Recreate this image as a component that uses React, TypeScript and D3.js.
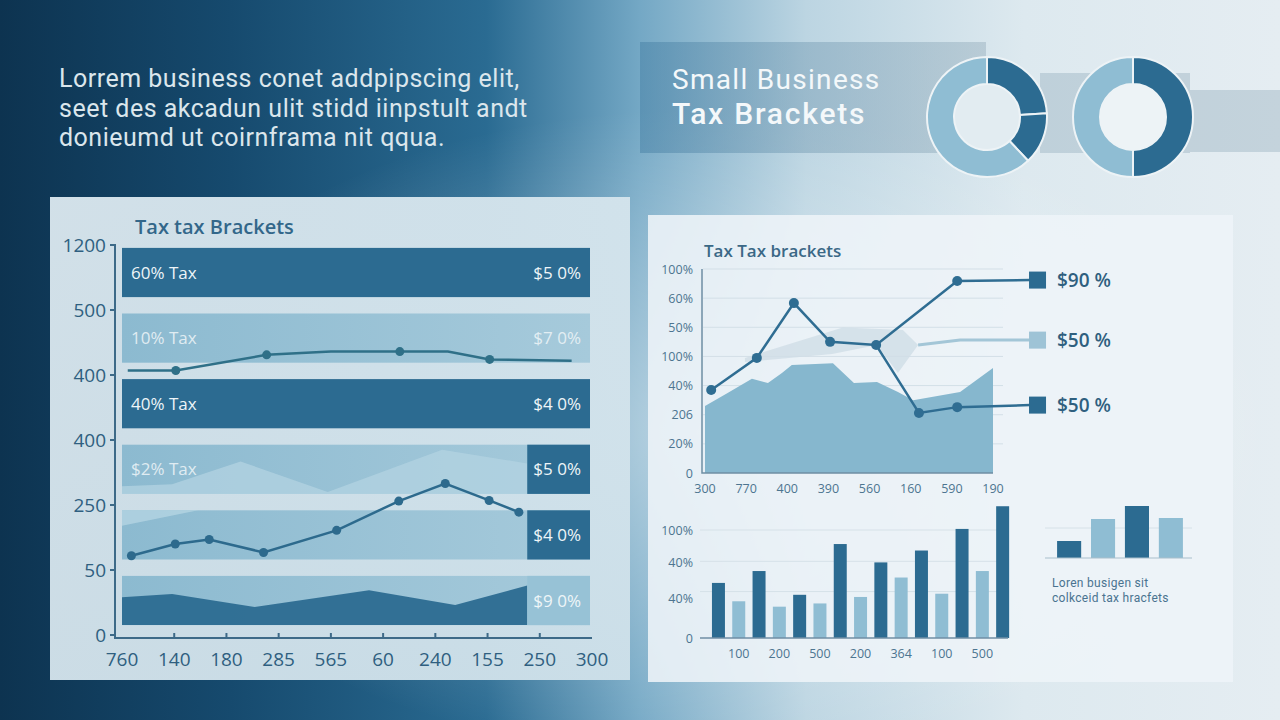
import * as d3 from "d3";

// ---------- header ----------
const introLines = [
  "Lorrem business conet addpipscing elit,",
  "seet des akcadun ulit stidd iinpstult andt",
  "donieumd ut coirnframa nit qqua.",
];
const titleLines = ["Small Business", "Tax Brackets"];
const donutShares = [24, 14, 62];
const donutHalves = [50, 50];

// ---------- left panel ----------
const leftTitle = "Tax tax Brackets";
const leftYLabels = ["0", "50", "250", "400", "400", "500", "1200"];
const leftXLabels = ["760", "140", "180", "285", "565", "60", "240", "155", "250", "300"];
const rowLeftText = ["60% Tax", "10% Tax", "40% Tax", "$2% Tax", "", ""];
const rowRightText = ["$5 0%", "$7 0%", "$4 0%", "$5 0%", "$4 0%", "$9 0%"];
const flatLineX = [0.11, 1.03, 2.77, 4.0, 5.32, 6.24, 7.04, 8.61];
const flatLineY = [4.07, 4.07, 4.31, 4.36, 4.36, 4.36, 4.24, 4.22];
const flatLineDots = [1, 2, 4, 6];
const riseLineX = [0.18, 1.02, 1.67, 2.71, 4.11, 5.3, 6.19, 7.03, 7.6];
const riseLineY = [1.22, 1.4, 1.47, 1.27, 1.61, 2.06, 2.33, 2.07, 1.89];
const ridgeX = [0, 0.96, 2.27, 3.94, 6.13, 7.76];
const ridgeY = [2.29, 2.32, 2.67, 2.2, 2.85, 2.64];
const wedgeX = [0, 1.46];
const wedgeY = [1.68, 1.92];
const floorX = [0, 0.96, 2.54, 4.73, 6.38, 7.76];
const floorY = [0.58, 0.63, 0.43, 0.69, 0.46, 0.76];

// ---------- right top chart ----------
const rightTitle = "Tax Tax brackets";
const rightYLabels = ["0", "20%", "206", "40%", "100%", "50%", "60%", "100%"];
const rightXLabels = ["300", "770", "400", "390", "560", "160", "590", "190"];
const hillX = [0, 0.56, 1.14, 1.53, 1.87, 2.11, 3.11, 3.62, 4.18, 4.69, 5.06, 6.2, 7.0];
const hillY = [2.3, 2.75, 3.23, 3.09, 3.43, 3.71, 3.77, 3.09, 3.12, 2.78, 2.5, 2.78, 3.6];
const ghostX = [0.97, 3.35, 4.81, 5.18, 4.69, 4.18, 3.09, 0.97];
const ghostY = [3.95, 4.99, 4.91, 4.39, 3.43, 4.39, 4.08, 3.81];
const topLineX = [0.15, 1.26, 2.16, 3.04, 4.16, 6.13, 7.9];
const topLineY = [2.85, 3.95, 5.83, 4.5, 4.39, 6.59, 6.62];
const paleLineX = [5.18, 6.2, 7.9];
const paleLineY = [4.39, 4.56, 4.56];
const lowLineX = [4.16, 5.2, 6.13, 7.9];
const lowLineY = [4.39, 2.06, 2.26, 2.33];
const legendLabels = ["$90 %", "$50 %", "$50 %"];

// ---------- right bottom bars ----------
const barValues = [51, 34, 62, 29, 40, 32, 87, 38, 70, 56, 81, 41, 101, 62, 122];
const barLabels = ["100", "200", "500", "200", "364", "100", "500"];
const barYLabels = ["0", "40%", "40%", "100%"];
const barYLabelAt = [0, 37, 70, 100];
const barGrid = [43, 71, 100];
const miniValues = [17, 39, 52, 40];
const miniCaption = ["Loren  busigen sit", "colkceid tax hracfets"];

const DARK = "#2c6b91";
const LIGHT = "#8fbdd3";
const FONT = "'Open Sans', 'DejaVu Sans', sans-serif";
const TIGHT = "Roboto, 'Open Sans', sans-serif";

const zip = (xs: number[], ys: number[]) => xs.map((x, i) => [x, ys[i]] as [number, number]);

export default function App() {
  // left chart scales
  const lx = d3.scaleLinear().domain([0, 9]).range([122, 592]);
  const ly = d3.scaleLinear().domain([0, 6]).range([635, 245]);
  const rows = d3
    .scaleBand<number>()
    .domain(d3.range(6))
    .range([239.7, 633.3])
    .paddingInner(0.25)
    .paddingOuter(0.125);
  const bandL = 122;
  const bandR = 590;
  const split = lx(7.76);
  const lLine = d3.line<[number, number]>().x((d) => lx(d[0])).y((d) => ly(d[1]));

  // right chart scales
  const rx = d3.scaleLinear().domain([0, 7]).range([705, 993]);
  const ry = d3.scaleLinear().domain([0, 7]).range([473, 269]);
  const rLine = d3.line<[number, number]>().x((d) => rx(d[0])).y((d) => ry(d[1]));
  const rArea = d3
    .area<[number, number]>()
    .x((d) => rx(d[0]))
    .y0(ry(0))
    .y1((d) => ry(d[1]));

  // bars
  const bx = d3
    .scaleBand<number>()
    .domain(d3.range(barValues.length))
    .range([708.3, 1012.8])
    .paddingInner(0.36)
    .paddingOuter(0.18);
  const by = d3.scaleLinear().domain([0, 100]).range([638, 530]);
  const sx = d3
    .scaleBand<number>()
    .domain(d3.range(miniValues.length))
    .range([1052, 1188])
    .paddingInner(0.29)
    .paddingOuter(0.15);
  const sy = d3.scaleLinear().domain([0, 60]).range([558, 498]);

  const pie = d3.pie<number>().sort(null);
  const arc = d3.arc<d3.PieArcDatum<number>>().innerRadius(33).outerRadius(60);

  const r0 = (i: number) => rows(i) as number;
  const bw = rows.bandwidth();

  const areaIn = (xs: number[], ys: number[], base: number) =>
    d3
      .area<[number, number]>()
      .x((d) => lx(d[0]))
      .y0(base)
      .y1((d) => ly(d[1]))(zip(xs, ys)) as string;

  return (
    <svg
      width={1280}
      height={720}
      style={{ position: "absolute", left: 0, top: 0, display: "block" }}
      fontFamily={FONT}
    >
      <defs>
        <linearGradient id="bg" x1="0" x2="1" y1="0" y2="0">
          <stop offset="0" stopColor="#0d3350" />
          <stop offset="0.18" stopColor="#164a6e" />
          <stop offset="0.38" stopColor="#2a6b92" />
          <stop offset="0.5" stopColor="#74a8c5" />
          <stop offset="0.63" stopColor="#bcd5e2" />
          <stop offset="0.8" stopColor="#dde9ef" />
          <stop offset="1" stopColor="#e5edf2" />
        </linearGradient>
        <radialGradient id="glow" cx="0.55" cy="0.6" r="0.45">
          <stop offset="0" stopColor="#ffffff" stopOpacity="0.45" />
          <stop offset="1" stopColor="#ffffff" stopOpacity="0" />
        </radialGradient>
        <linearGradient id="band" x1="0" x2="1">
          <stop offset="0" stopColor="#3f7aa0" stopOpacity="0.45" />
          <stop offset="0.5" stopColor="#6a92ab" stopOpacity="0.4" />
          <stop offset="1" stopColor="#8fa8b7" stopOpacity="0.42" />
        </linearGradient>
        <linearGradient id="panelL" x1="0" x2="1" y1="0" y2="1">
          <stop offset="0" stopColor="#dce9f0" />
          <stop offset="1" stopColor="#cfe1ea" />
        </linearGradient>
        <linearGradient id="lightRow" x1="0" x2="1">
          <stop offset="0" stopColor="#8cbad0" />
          <stop offset="1" stopColor="#a6cadb" />
        </linearGradient>
      </defs>

      {/* background */}
      <rect width={1280} height={720} fill="url(#bg)" />
      <rect width={1280} height={720} fill="url(#glow)" />

      {/* intro paragraph */}
      <text fill="#dbe6ec" fontSize={25} fontFamily={TIGHT} letterSpacing={0.5}>
        {introLines.map((t, i) => (
          <tspan key={i} x={59} y={87 + i * 29.5}>
            {t}
          </tspan>
        ))}
      </text>

      {/* title bands */}
      <rect x={640} y={42} width={346} height={111} fill="url(#band)" />
      <rect x={1040} y={73} width={150} height={80} fill="#8fa8b7" opacity={0.38} />
      <rect x={1190} y={90} width={90} height={62} fill="#8fa8b7" opacity={0.38} />
      <text fill="#f4f8fa" fontFamily={TIGHT}>
        <tspan x={672} y={89} fontSize={28} fontWeight={400} letterSpacing={1.3}>
          {titleLines[0]}
        </tspan>
        <tspan x={672} y={124} fontSize={30} fontWeight={500} letterSpacing={1.8}>
          {titleLines[1]}
        </tspan>
      </text>

      {/* donuts */}
      <g transform="translate(987,117)">
        <circle r={33} fill="#e2ecf1" />
        {pie(donutShares).map((s, i) => (
          <path key={i} d={arc(s) as string} fill={i < 2 ? DARK : LIGHT} stroke="#edf3f6" strokeWidth={2} />
        ))}
      </g>
      <g transform="translate(1133,117)">
        <circle r={33} fill="#edf3f6" />
        {pie(donutHalves).map((s, i) => (
          <path key={i} d={arc(s) as string} fill={i === 0 ? DARK : LIGHT} stroke="#edf3f6" strokeWidth={2} />
        ))}
      </g>

      {/* left panel */}
      <rect x={50} y={197} width={580} height={483} fill="url(#panelL)" opacity={0.95} />
      <text x={135} y={234} fill="#33678a" fontSize={20} fontWeight={600}>
        {leftTitle}
      </text>

      {/* rows */}
      {d3.range(6).map((i) => {
        const y = r0(i);
        const dark = i === 0 || i === 2;
        return (
          <rect key={i} x={bandL} y={y} width={bandR - bandL} height={bw} fill={dark ? DARK : "url(#lightRow)"} />
        );
      })}
      {/* row 4 ridge */}
      <path d={areaIn(ridgeX, ridgeY, r0(3) + bw)} fill="#b3d3e1" opacity={0.75} />
      {/* row 5 wedge */}
      <path d={areaIn(wedgeX, wedgeY, r0(4))} fill="#b4d4e2" opacity={0.8} />
      {/* row 6 floor */}
      <path d={areaIn(floorX, floorY, r0(5) + bw)} fill={DARK} opacity={0.95} />
      {/* right boxes */}
      <rect x={split} y={r0(3)} width={bandR - split} height={bw} fill={DARK} />
      <rect x={split} y={r0(4)} width={bandR - split} height={bw} fill={DARK} />
      <rect x={split} y={r0(5)} width={bandR - split} height={bw} fill="#97c2d6" />

      <g fontSize={17} fill="#eef5f8">
        {rowLeftText.map((t, i) =>
          t ? (
            <text key={i} x={131} y={r0(i) + bw / 2 + 6} opacity={i === 1 || i === 3 ? 0.85 : 1}>
              {t}
            </text>
          ) : null
        )}
        {rowRightText.map((t, i) => (
          <text key={i} x={581} y={r0(i) + bw / 2 + 6} textAnchor="end" opacity={i === 1 ? 0.85 : 1}>
            {t}
          </text>
        ))}
      </g>

      {/* lines on left chart */}
      <path d={lLine(zip(flatLineX, flatLineY)) as string} fill="none" stroke="#2f7088" strokeWidth={2.5} />
      {flatLineDots.map((k) => (
        <circle key={k} cx={lx(flatLineX[k])} cy={ly(flatLineY[k])} r={4.5} fill="#2f7088" />
      ))}
      <path d={lLine(zip(riseLineX, riseLineY)) as string} fill="none" stroke="#2d6a8d" strokeWidth={2.5} />
      {riseLineX.map((x, k) => (
        <circle key={k} cx={lx(x)} cy={ly(riseLineY[k])} r={4.5} fill="#2d6a8d" />
      ))}

      {/* left axes */}
      <g stroke="#3d6a88" strokeWidth={2} fill="none">
        <path d={`M110,${ly(6)}H115V${ly(0) + 3}H${lx(9)}`} />
        {d3.range(0, 6).map((i) => (
          <line key={i} x1={110} x2={115} y1={ly(i)} y2={ly(i)} />
        ))}
        {d3.range(1, 9).map((i) => (
          <line key={i} x1={lx(i)} x2={lx(i)} y1={ly(0) + 3} y2={ly(0) - 2} />
        ))}
      </g>
      <g fill="#2f5f80" fontSize={19}>
        {leftYLabels.map((t, i) => (
          <text key={i} x={106} y={ly(i) + 7} textAnchor="end">
            {t}
          </text>
        ))}
        {leftXLabels.map((t, i) => (
          <text key={i} x={lx(i)} y={666} textAnchor="middle">
            {t}
          </text>
        ))}
      </g>

      {/* right panel */}
      <rect x={648} y={215} width={585} height={467} fill="#eef4f8" opacity={0.88} />
      <text x={704} y={257} fill="#3b6886" fontSize={17} fontWeight={600}>
        {rightTitle}
      </text>
      <g stroke="#d3dfe7" strokeWidth={1}>
        {d3.range(1, 8).map((i) => (
          <line key={i} x1={703} x2={1003} y1={ry(i)} y2={ry(i)} />
        ))}
      </g>
      <path d={rArea(zip(hillX, hillY)) as string} fill="#86b7ce" />
      <path d={`M${zip(ghostX, ghostY).map((d) => `${rx(d[0])},${ry(d[1])}`).join("L")}Z`} fill="#d0dde6" opacity={0.8} />
      <path d={rLine(zip(paleLineX, paleLineY)) as string} fill="none" stroke="#a3c6d7" strokeWidth={3} />
      <path d={rLine(zip(topLineX, topLineY)) as string} fill="none" stroke="#2f6d92" strokeWidth={2.5} />
      <path d={rLine(zip(lowLineX, lowLineY)) as string} fill="none" stroke="#2f6d92" strokeWidth={2.5} />
      {topLineX.slice(0, 6).map((x, k) => (
        <circle key={k} cx={rx(x)} cy={ry(topLineY[k])} r={5} fill="#2f6d92" />
      ))}
      {[1, 2].map((k) => (
        <circle key={k} cx={rx(lowLineX[k])} cy={ry(lowLineY[k])} r={5} fill="#2f6d92" />
      ))}
      <g stroke="#6f8ea4" strokeWidth={1.5} fill="none">
        <path d={`M${rx(0) - 3},${ry(7)}V${ry(0)}H${rx(7)}`} />
      </g>
      <g fill="#4d7590" fontSize={12.5}>
        {rightYLabels.map((t, i) => (
          <text key={i} x={693} y={ry(i) + 4.5} textAnchor="end">
            {t}
          </text>
        ))}
        {rightXLabels.map((t, i) => (
          <text key={i} x={rx(i)} y={493} textAnchor="middle">
            {t}
          </text>
        ))}
      </g>
      {/* legend */}
      {[topLineY, paleLineY, lowLineY].map((ys, i) => {
        const cy = ry(ys[ys.length - 1]);
        return (
          <g key={i}>
            <rect x={rx(7.9) - 1} y={cy - 8.5} width={17} height={17} fill={i === 1 ? "#9ec3d6" : DARK} />
            <text x={1057} y={cy + 7} fill="#2f5f7f" fontSize={19} fontWeight={600}>
              {legendLabels[i]}
            </text>
          </g>
        );
      })}

      {/* bar chart */}
      <g stroke="#d6e1e8" strokeWidth={1}>
        {barGrid.map((v) => (
          <line key={v} x1={700} x2={1008} y1={by(v)} y2={by(v)} />
        ))}
      </g>
      {barValues.map((v, i) => (
        <rect
          key={i}
          x={bx(i)}
          y={by(v)}
          width={bx.bandwidth()}
          height={by(0) - by(v)}
          fill={i % 2 === 0 ? DARK : LIGHT}
        />
      ))}
      <line x1={700} x2={1008} y1={by(0)} y2={by(0)} stroke="#6f8ea4" strokeWidth={1.5} />
      <g fill="#4d7590" fontSize={12.5}>
        {barYLabels.map((t, i) => (
          <text key={i} x={693} y={by(barYLabelAt[i]) + 4.5} textAnchor="end">
            {t}
          </text>
        ))}
        {barLabels.map((t, i) => (
          <text key={i} x={(bx(i * 2 + 1) as number) + bx.bandwidth() / 2} y={658} textAnchor="middle">
            {t}
          </text>
        ))}
      </g>

      {/* mini bars */}
      <line x1={1045} x2={1192} y1={sy(30)} y2={sy(30)} stroke="#d6e1e8" />
      {miniValues.map((v, i) => (
        <rect
          key={i}
          x={sx(i)}
          y={sy(v)}
          width={sx.bandwidth()}
          height={sy(0) - sy(v)}
          fill={i % 2 === 0 ? DARK : LIGHT}
        />
      ))}
      <line x1={1045} x2={1192} y1={sy(0)} y2={sy(0)} stroke="#a9bfcc" strokeWidth={1.2} />
      <text fill="#4a7390" fontSize={12} fontFamily={TIGHT} letterSpacing={0.3}>
        {miniCaption.map((t, i) => (
          <tspan key={i} x={1052} y={587 + i * 14.5}>
            {t}
          </tspan>
        ))}
      </text>
    </svg>
  );
}
